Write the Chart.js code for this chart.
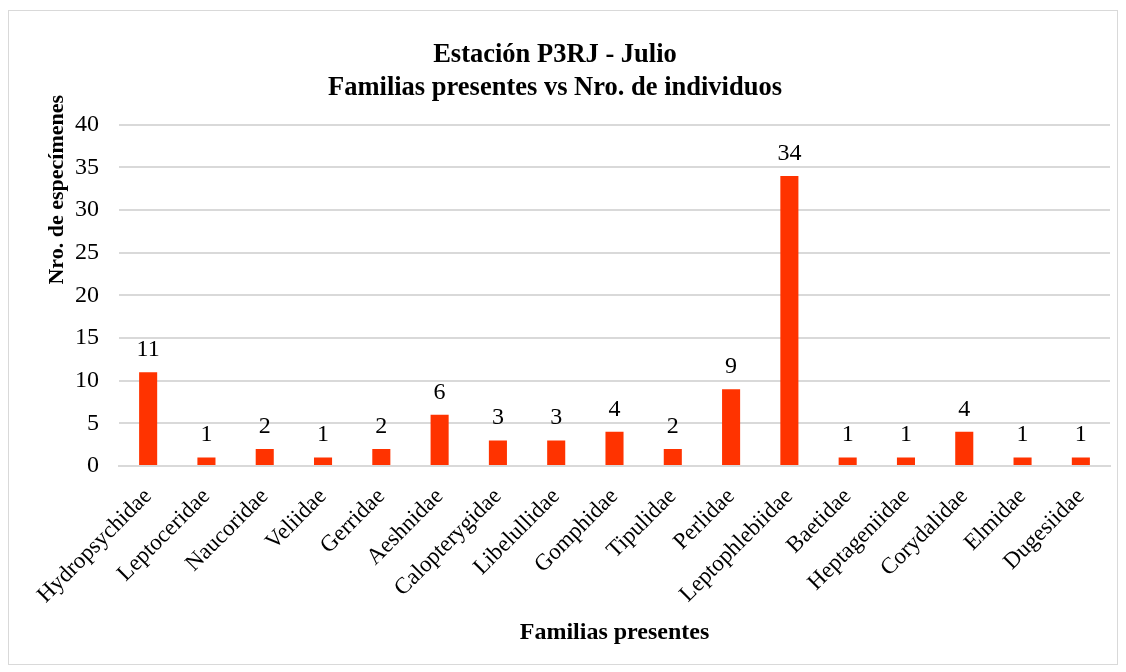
<!DOCTYPE html>
<html>
<head>
<meta charset="utf-8">
<script src="https://cdn.jsdelivr.net/npm/chart.js@4.4.1/dist/chart.umd.min.js"></script>
<style>
  html, body { margin: 0; padding: 0; background: #fff; }
  #wrap { position: relative; width: 1126px; height: 672px; }
</style>
</head>
<body>
<div id="wrap"><canvas id="chart" width="1126" height="672"></canvas></div>
<script>
const familias = [
  'Hydropsychidae', 'Leptoceridae', 'Naucoridae', 'Veliidae', 'Gerridae',
  'Aeshnidae', 'Calopterygidae', 'Libelullidae', 'Gomphidae', 'Tipulidae',
  'Perlidae', 'Leptophlebiidae', 'Baetidae', 'Heptageniidae', 'Corydalidae',
  'Elmidae', 'Dugesiidae'
];
const individuos = [11, 1, 2, 1, 2, 6, 3, 3, 4, 2, 9, 34, 1, 1, 4, 1, 1];
const tituloLineas = ['Estación P3RJ - Julio', 'Familias presentes vs Nro. de individuos'];
const tituloX = 'Familias presentes';
const tituloY = 'Nro. de especímenes';

const SERIF = "'Liberation Serif', 'Times New Roman', serif";
const GRID = '#d9d9d9';

// white background plus the thin outer frame
const marco = {
  id: 'marco',
  beforeDraw(chart) {
    const ctx = chart.ctx;
    ctx.save();
    ctx.fillStyle = '#fff';
    ctx.fillRect(0, 0, chart.width, chart.height);
    ctx.strokeStyle = GRID;
    ctx.lineWidth = 1;
    ctx.strokeRect(8.5, 10.5, 1109, 654);
    ctx.restore();
  }
};

// value printed above each bar
const etiquetas = {
  id: 'etiquetas',
  afterDatasetsDraw(chart) {
    const ctx = chart.ctx;
    const meta = chart.getDatasetMeta(0);
    ctx.save();
    ctx.font = '24px ' + SERIF;
    ctx.fillStyle = '#000';
    ctx.textAlign = 'center';
    ctx.textBaseline = 'alphabetic';
    meta.data.forEach((bar, i) => {
      ctx.fillText(String(chart.data.datasets[0].data[i]), bar.x, bar.y - 16);
    });
    ctx.restore();
  }
};

// vertical axis title, sitting toward the top of the axis
const tituloVertical = {
  id: 'tituloVertical',
  afterDraw(chart) {
    const ctx = chart.ctx;
    const area = chart.chartArea;
    ctx.save();
    ctx.translate(57, area.top + 65);
    ctx.rotate(-Math.PI / 2);
    ctx.font = 'bold 22px ' + SERIF;
    ctx.fillStyle = '#000';
    ctx.textAlign = 'center';
    ctx.textBaseline = 'middle';
    ctx.fillText(tituloY, 0, 0);
    ctx.restore();
  }
};

new Chart(document.getElementById('chart'), {
  type: 'bar',
  data: {
    labels: familias,
    datasets: [{
      data: individuos,
      backgroundColor: '#ff3300',
      borderWidth: 0,
      barPercentage: 0.31,
      categoryPercentage: 1
    }]
  },
  options: {
    responsive: false,
    animation: false,
    layout: { padding: { top: 39, right: 16, bottom: 10, left: 0 } },
    plugins: {
      legend: { display: false },
      tooltip: { enabled: false },
      title: {
        display: true,
        text: tituloLineas,
        color: '#000',
        font: { family: SERIF, size: 26.5, weight: 'bold', lineHeight: 1.24 },
        padding: { top: 0, bottom: 20 }
      }
    },
    scales: {
      x: {
        grid: { display: false, drawTicks: false },
        border: { display: true, color: GRID, width: 2 },
        ticks: {
          color: '#000',
          font: { family: SERIF, size: 23 },
          maxRotation: 45,
          minRotation: 45,
          padding: 17,
          autoSkip: false
        },
        title: {
          display: true,
          text: tituloX,
          color: '#000',
          font: { family: SERIF, size: 24, weight: 'bold' },
          padding: { top: 4, bottom: 15 }
        },
        afterFit(scale) { scale.height = 196; }
      },
      y: {
        min: 0,
        max: 40,
        grid: { color: GRID, lineWidth: 2, drawTicks: false },
        border: { display: false },
        ticks: {
          stepSize: 5,
          color: '#000',
          font: { family: SERIF, size: 24 },
          padding: 20
        },
        afterFit(scale) { scale.width = 119; }
      }
    }
  },
  plugins: [marco, etiquetas, tituloVertical]
});
</script>
</body>
</html>
